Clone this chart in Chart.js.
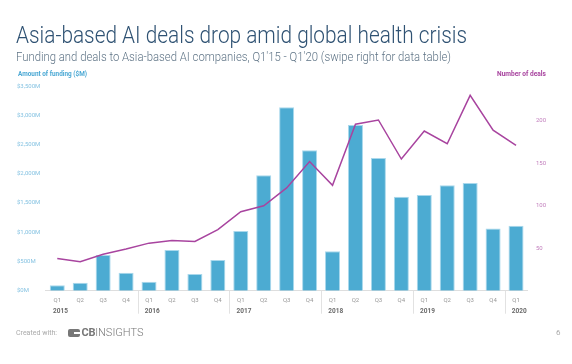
<!DOCTYPE html>
<html>
<head>
<meta charset="utf-8">
<script src="https://cdn.jsdelivr.net/npm/chart.js@4.4.1/dist/chart.umd.min.js"></script>
<style>
  html,body{margin:0;padding:0;background:#fff;}
  #wrap{position:relative;width:572px;height:364px;overflow:hidden;font-family:Roboto,sans-serif;}
  canvas{position:absolute;left:0;top:0;}
  .t{position:absolute;white-space:nowrap;transform-origin:0 0;}
  #title{left:16px;top:24px;font-size:23px;line-height:23px;font-weight:300;color:#2f5273;}
  #subtitle{left:16px;top:49.6px;font-size:13px;line-height:13px;font-weight:300;color:#5f7486;}
  #lt{left:17.5px;top:69.5px;font-size:6.5px;line-height:8px;font-weight:700;color:#4aa8d4;}
  #rt{left:497px;top:69.5px;font-size:6.5px;line-height:8px;font-weight:700;color:#a8449f;}
  #created{left:16px;top:328.5px;font-size:7px;line-height:9px;color:#aaa;}
  #logo{position:absolute;left:68px;top:327px;height:12px;display:flex;align-items:center;color:#777;}
  #icon{width:12px;height:8px;background:#777;border-radius:2px;position:relative;margin-right:1.5px;}
  #icon:after{content:"";position:absolute;left:6px;top:3.4px;width:6px;height:1.2px;background:#fff;}
  #logo .cb{font-size:11px;font-weight:700;line-height:12px;letter-spacing:-0.3px;}
  #logo .ins{font-size:11px;font-weight:300;line-height:12px;}
  #page{left:556px;top:327.5px;font-size:8px;line-height:9px;color:#aaa;}
</style>
</head>
<body>
<div id="wrap">
  <canvas id="c" width="572" height="364"></canvas>
  <div class="t" id="title">Asia-based AI deals drop amid global health crisis</div>
  <div class="t" id="subtitle">Funding and deals to Asia-based AI companies, Q1'15 - Q1'20 (swipe right for data table)</div>
  <div class="t" id="lt">Amount of funding ($M)</div>
  <div class="t" id="rt">Number of deals</div>
  <div class="t" id="created">Created with:</div>
  <div id="logo"><div id="icon"></div><span class="cb">CB</span><span class="ins">INSIGHTS</span></div>
  <div class="t" id="page">6</div>
</div>
<script>
// ---- data ----
const quarterLabels = ['Q1','Q2','Q3','Q4','Q1','Q2','Q3','Q4','Q1','Q2','Q3','Q4','Q1','Q2','Q3','Q4','Q1','Q2','Q3','Q4','Q1'];
const yearLabels = ['2015','','','','2016','','','','2017','','','','2018','','','','2019','','','','2020'];
const funding = [95,137,612,308,154,696,285,525,1020,1972,3135,2400,673,2832,2268,1607,1636,1801,1841,1063,1111];
const deals = [38,34,43,49,56,59,58,72,93,100,121,152,124,196,201,155,188,173,230,189,171];
const fundingTicks = [0,500,1000,1500,2000,2500,3000,3500];
const dealTicks = [50,100,150,200];

// fit header texts to their measured widths
function fitWidth(id, target){
  const el = document.getElementById(id);
  const w = el.getBoundingClientRect().width;
  if (w > 0) el.style.transform = 'scaleX(' + (target / w) + ')';
}
fitWidth('title', 451);
fitWidth('subtitle', 435);
fitWidth('lt', 69);
fitWidth('rt', 49);
fitWidth('created', 41);

Chart.defaults.font.family = 'Roboto';

const yearPlugin = {
  id: 'years',
  afterDraw(chart) {
    const xs = chart.scales.x;
    const ctx = chart.ctx;
    ctx.save();
    for (let i = 0; i < yearLabels.length; i++) {
      if (!yearLabels[i]) continue;
      const px = xs.getPixelForTick(i);
      ctx.font = '6px Roboto';
      const qw = ctx.measureText(quarterLabels[i]).width;
      ctx.font = 'bold 6.5px Roboto';
      ctx.fillStyle = '#6a6a6a';
      ctx.textAlign = 'left';
      ctx.textBaseline = 'middle';
      ctx.fillText(yearLabels[i], px - qw / 2 - 0.5, xs.top + 20.6);
      if (i > 0) {
        const sx = Math.round((px + xs.getPixelForTick(i - 1)) / 2) + 0.5;
        ctx.strokeStyle = '#e2e2e2';
        ctx.lineWidth = 1;
        ctx.beginPath();
        ctx.moveTo(sx, xs.top);
        ctx.lineTo(sx, xs.top + 23);
        ctx.stroke();
      }
    }
    ctx.restore();
  }
};

new Chart(document.getElementById('c'), {
  data: {
    labels: quarterLabels,
    datasets: [
      {
        type: 'line',
        label: 'Number of deals',
        data: deals,
        yAxisID: 'yDeals',
        borderColor: '#a8449f',
        borderWidth: 1.5,
        pointRadius: 0,
        tension: 0,
        fill: false,
        order: 0
      },
      {
        type: 'bar',
        label: 'Amount of funding ($M)',
        data: funding,
        yAxisID: 'yFunding',
        backgroundColor: '#4cabd2',
        borderColor: '#a9d8ec',
        borderWidth: {top: 1, left: 1, right: 1, bottom: 0},
        barPercentage: 0.655,
        categoryPercentage: 1,
        order: 1
      }
    ]
  },
  options: {
    responsive: false,
    animation: false,
    devicePixelRatio: 1,
    layout: {padding: {left: 17, right: 14.5, top: 86, bottom: 43.3}},
    plugins: {legend: {display: false}, tooltip: {enabled: false}},
    scales: {
      x: {
        grid: {display: false, drawTicks: false},
        border: {display: true, color: '#dedede', width: 1},
        ticks: {color: '#999', font: {size: 6}, padding: 6, maxRotation: 0, autoSkip: false},
        afterFit(s) { s.height = 30; }
      },
      yFunding: {
        position: 'left',
        min: 0, max: 3500,
        grid: {display: false, drawTicks: false},
        border: {display: false},
        afterBuildTicks(s) { s.ticks = fundingTicks.map(v => ({value: v})); },
        ticks: {
          crossAlign: 'far',
          color: '#86c3e2',
          font: {size: 6},
          callback: v => '$' + Number(v).toLocaleString('en-US') + 'M'
        },
        afterFit(s) { s.width = 28.8; }
      },
      yDeals: {
        position: 'right',
        min: 0, max: 241,
        grid: {display: false, drawTicks: false},
        border: {display: false},
        afterBuildTicks(s) { s.ticks = dealTicks.map(v => ({value: v})); },
        ticks: {
          color: '#c27fbd',
          font: {size: 6},
          padding: 8.5,
          callback: v => String(v)
        },
        afterFit(s) { s.width = 30; }
      }
    }
  },
  plugins: [yearPlugin]
});
</script>
</body>
</html>
